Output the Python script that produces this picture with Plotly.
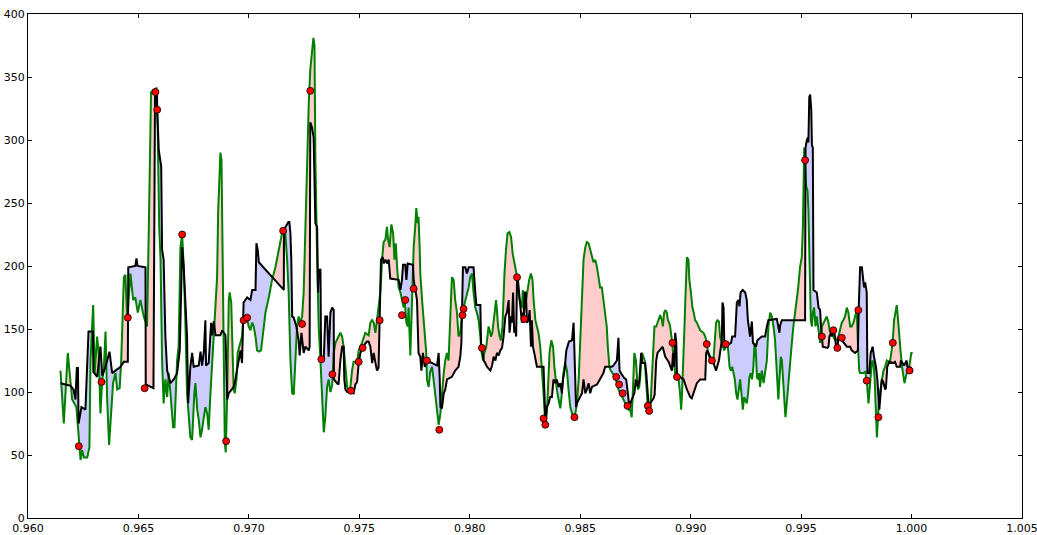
import numpy as np
import plotly.graph_objects as go

black_x = [0.96147,0.96192,0.96206,0.96215,0.96221,0.96226,0.96229,0.96242,0.96260,0.96267,0.96274,0.96294,0.96296,0.96313,0.96328,0.96336,0.96351,0.96369,0.96381,0.96396,0.96419,0.96434,0.96452,0.96454,0.96486,0.96491,0.96496,0.96532,0.96533,0.96568,0.96575,0.96584,0.96585,0.96592,0.96603,0.96607,0.96614,0.96622,0.96630,0.96645,0.96660,0.96675,0.96687,0.96698,0.96705,0.96720,0.96725,0.96735,0.96743,0.96750,0.96773,0.96781,0.96788,0.96796,0.96803,0.96806,0.96818,0.96829,0.96833,0.96841,0.96849,0.96871,0.96879,0.96894,0.96902,0.96909,0.96924,0.96931,0.96939,0.96947,0.96954,0.96962,0.96969,0.96976,0.96992,0.97007,0.97015,0.97030,0.97034,0.97040,0.97045,0.97158,0.97159,0.97173,0.97179,0.97183,0.97188,0.97192,0.97196,0.97203,0.97215,0.97225,0.97230,0.97238,0.97243,0.97248,0.97256,0.97271,0.97275,0.97278,0.97286,0.97293,0.97301,0.97309,0.97313,0.97316,0.97324,0.97327,0.97339,0.97346,0.97354,0.97361,0.97369,0.97377,0.97384,0.97385,0.97399,0.97406,0.97414,0.97422,0.97429,0.97432,0.97437,0.97445,0.97467,0.97474,0.97482,0.97490,0.97497,0.97505,0.97520,0.97535,0.97542,0.97550,0.97558,0.97565,0.97573,0.97580,0.97587,0.97592,0.97598,0.97606,0.97610,0.97618,0.97625,0.97633,0.97640,0.97678,0.97686,0.97693,0.97698,0.97708,0.97713,0.97719,0.97743,0.97746,0.97753,0.97761,0.97768,0.97776,0.97781,0.97788,0.97796,0.97806,0.97852,0.97859,0.97864,0.97867,0.97874,0.97882,0.97889,0.97897,0.97919,0.97934,0.97949,0.97957,0.97962,0.97965,0.97969,0.97980,0.97987,0.97995,0.98017,0.98025,0.98030,0.98048,0.98051,0.98055,0.98063,0.98070,0.98078,0.98093,0.98101,0.98108,0.98116,0.98123,0.98131,0.98138,0.98146,0.98153,0.98161,0.98168,0.98176,0.98180,0.98187,0.98191,0.98196,0.98201,0.98206,0.98210,0.98214,0.98218,0.98224,0.98229,0.98236,0.98241,0.98244,0.98248,0.98254,0.98259,0.98266,0.98271,0.98277,0.98281,0.98286,0.98292,0.98297,0.98304,0.98334,0.98337,0.98342,0.98349,0.98357,0.98364,0.98372,0.98379,0.98387,0.98394,0.98402,0.98410,0.98417,0.98422,0.98429,0.98437,0.98443,0.98449,0.98463,0.98470,0.98475,0.98481,0.98485,0.98493,0.98500,0.98508,0.98515,0.98523,0.98530,0.98538,0.98545,0.98553,0.98576,0.98590,0.98605,0.98613,0.98643,0.98650,0.98666,0.98673,0.98678,0.98684,0.98693,0.98699,0.98708,0.98714,0.98719,0.98723,0.98729,0.98737,0.98745,0.98752,0.98761,0.98768,0.98776,0.98781,0.98794,0.98799,0.98805,0.98809,0.98817,0.98832,0.98837,0.98840,0.98844,0.98850,0.98858,0.98873,0.98885,0.98900,0.98915,0.98920,0.98926,0.98930,0.98935,0.98938,0.98952,0.98968,0.98983,0.98998,0.99005,0.99013,0.99028,0.99043,0.99066,0.99070,0.99076,0.99088,0.99103,0.99115,0.99121,0.99128,0.99141,0.99144,0.99149,0.99152,0.99156,0.99183,0.99188,0.99201,0.99205,0.99209,0.99216,0.99221,0.99226,0.99236,0.99247,0.99254,0.99259,0.99265,0.99269,0.99277,0.99282,0.99296,0.99302,0.99322,0.99337,0.99345,0.99352,0.99390,0.99397,0.99402,0.99405,0.99413,0.99518,0.99520,0.99526,0.99531,0.99533,0.99537,0.99541,0.99546,0.99549,0.99553,0.99556,0.99571,0.99579,0.99586,0.99590,0.99594,0.99598,0.99619,0.99624,0.99628,0.99635,0.99639,0.99646,0.99654,0.99658,0.99664,0.99669,0.99676,0.99691,0.99707,0.99722,0.99729,0.99744,0.99757,0.99761,0.99767,0.99775,0.99780,0.99785,0.99790,0.99797,0.99800,0.99809,0.99815,0.99824,0.99830,0.99839,0.99845,0.99850,0.99854,0.99860,0.99865,0.99872,0.99880,0.99884,0.99890,0.99899,0.99917,0.99925,0.99933,0.99948,0.99952,0.99966,0.99978,0.99981,1.00001]
black_y = [107,105,102,94,119,119,75,88,86,117,148,148,116,112,136,113,120,132,115,117,120,124,124,199,200,206,200,199,106,103,337,337,324,292,279,213,205,144,117,107,110,115,133,215,199,144,91,120,131,120,121,132,121,132,157,121,123,155,145,156,145,145,149,145,94,99,102,104,110,117,125,133,123,171,175,173,181,181,218,213,203,181,229,233,235,235,226,205,160,159,152,141,129,147,139,131,136,133,136,314,310,302,234,231,179,197,197,127,127,160,160,128,163,167,165,110,107,106,125,136,136,110,102,100,100,99,106,108,123,131,137,140,140,136,123,131,123,117,119,157,205,207,202,205,202,205,190,189,181,189,201,201,189,202,201,189,181,173,131,128,117,131,120,125,121,131,110,88,87,99,102,110,112,117,120,128,139,163,199,199,194,199,199,179,169,169,139,136,125,123,120,117,121,128,125,131,129,133,135,144,160,163,173,147,160,155,179,147,152,144,191,189,179,171,155,163,155,179,179,155,157,165,136,157,136,131,125,120,120,99,78,88,91,96,96,110,107,110,104,107,99,110,117,133,137,140,141,155,125,88,91,94,96,99,110,99,102,107,99,104,106,110,115,120,120,121,125,143,117,115,112,111,110,99,91,88,92,95,99,110,104,110,131,123,123,115,102,91,91,95,98,110,125,131,133,136,128,124,117,131,120,147,139,112,112,110,102,96,95,99,107,110,110,131,133,128,123,117,120,125,141,171,167,141,136,139,144,144,157,171,173,168,179,181,179,173,157,147,144,156,139,136,141,144,144,152,157,158,153,147,153,157,157,294,300,302,298,334,336,324,296,294,181,179,167,165,152,141,136,135,136,144,147,144,149,144,136,133,144,143,140,136,136,133,131,133,167,199,199,191,183,187,179,115,115,131,136,128,120,110,94,86,99,110,108,102,103,120,124,123,124,120,120,125,121,125,120,119]

green_x = [0.96147,0.96162,0.96180,0.96200,0.96219,0.96238,0.96245,0.96253,0.96268,0.96278,0.96283,0.96295,0.96302,0.96313,0.96320,0.96328,0.96336,0.96343,0.96351,0.96358,0.96367,0.96376,0.96385,0.96396,0.96404,0.96415,0.96422,0.96434,0.96441,0.96449,0.96456,0.96464,0.96476,0.96486,0.96497,0.96509,0.96524,0.96539,0.96547,0.96557,0.96569,0.96581,0.96587,0.96594,0.96600,0.96607,0.96614,0.96622,0.96630,0.96637,0.96645,0.96657,0.96663,0.96675,0.96682,0.96690,0.96698,0.96705,0.96713,0.96720,0.96735,0.96743,0.96753,0.96758,0.96766,0.96773,0.96781,0.96788,0.96796,0.96803,0.96811,0.96818,0.96826,0.96833,0.96841,0.96849,0.96856,0.96861,0.96867,0.96871,0.96876,0.96879,0.96883,0.96886,0.96891,0.96895,0.96902,0.96909,0.96913,0.96920,0.96927,0.96931,0.96936,0.96944,0.96949,0.96958,0.96969,0.96974,0.96980,0.96989,0.96999,0.97007,0.97015,0.97022,0.97030,0.97037,0.97045,0.97055,0.97064,0.97075,0.97090,0.97105,0.97120,0.97135,0.97150,0.97158,0.97165,0.97173,0.97180,0.97188,0.97196,0.97203,0.97210,0.97218,0.97225,0.97233,0.97241,0.97248,0.97256,0.97263,0.97271,0.97278,0.97286,0.97292,0.97297,0.97301,0.97309,0.97316,0.97324,0.97331,0.97339,0.97346,0.97354,0.97361,0.97369,0.97377,0.97384,0.97392,0.97407,0.97414,0.97422,0.97429,0.97437,0.97445,0.97452,0.97459,0.97467,0.97474,0.97490,0.97497,0.97512,0.97527,0.97542,0.97550,0.97558,0.97565,0.97573,0.97580,0.97587,0.97595,0.97603,0.97610,0.97618,0.97625,0.97630,0.97637,0.97645,0.97653,0.97659,0.97665,0.97671,0.97678,0.97686,0.97693,0.97701,0.97705,0.97713,0.97719,0.97723,0.97731,0.97739,0.97746,0.97753,0.97758,0.97764,0.97768,0.97773,0.97776,0.97784,0.97791,0.97799,0.97803,0.97806,0.97814,0.97821,0.97829,0.97836,0.97844,0.97852,0.97859,0.97867,0.97874,0.97882,0.97889,0.97897,0.97904,0.97912,0.97919,0.97927,0.97934,0.97942,0.97949,0.97957,0.97965,0.97972,0.97980,0.97987,0.97995,0.98002,0.98010,0.98017,0.98025,0.98032,0.98040,0.98048,0.98052,0.98060,0.98066,0.98075,0.98081,0.98085,0.98090,0.98096,0.98102,0.98108,0.98113,0.98119,0.98123,0.98128,0.98135,0.98141,0.98148,0.98153,0.98157,0.98164,0.98171,0.98179,0.98187,0.98194,0.98201,0.98206,0.98214,0.98218,0.98225,0.98231,0.98236,0.98240,0.98246,0.98254,0.98261,0.98269,0.98277,0.98284,0.98289,0.98297,0.98304,0.98311,0.98319,0.98324,0.98328,0.98334,0.98339,0.98343,0.98349,0.98354,0.98361,0.98369,0.98377,0.98383,0.98389,0.98394,0.98402,0.98410,0.98417,0.98424,0.98432,0.98440,0.98447,0.98455,0.98463,0.98470,0.98478,0.98485,0.98493,0.98500,0.98508,0.98515,0.98523,0.98530,0.98538,0.98545,0.98553,0.98560,0.98568,0.98576,0.98583,0.98590,0.98598,0.98605,0.98613,0.98620,0.98625,0.98632,0.98638,0.98647,0.98658,0.98666,0.98673,0.98681,0.98688,0.98696,0.98704,0.98711,0.98719,0.98726,0.98733,0.98738,0.98741,0.98745,0.98752,0.98756,0.98761,0.98767,0.98771,0.98776,0.98780,0.98786,0.98792,0.98797,0.98801,0.98806,0.98812,0.98817,0.98821,0.98827,0.98832,0.98836,0.98844,0.98850,0.98858,0.98862,0.98870,0.98874,0.98880,0.98885,0.98892,0.98897,0.98903,0.98907,0.98915,0.98920,0.98926,0.98931,0.98938,0.98945,0.98952,0.98957,0.98961,0.98968,0.98972,0.98977,0.98983,0.98990,0.98994,0.99001,0.99008,0.99014,0.99020,0.99028,0.99035,0.99043,0.99058,0.99066,0.99073,0.99078,0.99084,0.99096,0.99103,0.99111,0.99115,0.99121,0.99128,0.99133,0.99139,0.99146,0.99152,0.99158,0.99164,0.99170,0.99176,0.99182,0.99188,0.99194,0.99200,0.99206,0.99212,0.99218,0.99224,0.99230,0.99236,0.99242,0.99248,0.99254,0.99260,0.99266,0.99272,0.99278,0.99284,0.99289,0.99295,0.99300,0.99304,0.99310,0.99314,0.99322,0.99330,0.99337,0.99345,0.99352,0.99360,0.99367,0.99375,0.99382,0.99387,0.99393,0.99397,0.99402,0.99408,0.99413,0.99417,0.99423,0.99429,0.99435,0.99443,0.99450,0.99458,0.99465,0.99473,0.99480,0.99487,0.99495,0.99503,0.99508,0.99510,0.99514,0.99518,0.99523,0.99529,0.99533,0.99538,0.99544,0.99549,0.99553,0.99559,0.99565,0.99571,0.99579,0.99586,0.99594,0.99601,0.99608,0.99616,0.99624,0.99631,0.99639,0.99646,0.99654,0.99661,0.99669,0.99676,0.99684,0.99691,0.99699,0.99707,0.99714,0.99722,0.99729,0.99737,0.99744,0.99752,0.99757,0.99763,0.99767,0.99782,0.99790,0.99797,0.99805,0.99810,0.99816,0.99822,0.99828,0.99833,0.99837,0.99843,0.99849,0.99855,0.99861,0.99867,0.99873,0.99880,0.99888,0.99895,0.99903,0.99910,0.99915,0.99921,0.99927,0.99933,0.99939,0.99945,0.99951,0.99957,0.99963,0.99968,0.99974,0.99978,0.99986,0.99993,0.99999,1.00005]
green_y = [117,75,131,94,88,46,54,48,48,56,125,169,115,144,131,83,110,117,148,96,58,88,107,115,102,103,125,191,193,157,179,194,173,175,163,173,160,152,231,338,340,341,310,231,205,125,91,110,96,115,99,72,72,125,136,215,225,199,152,99,64,62,99,107,86,78,64,70,80,88,83,70,99,120,136,165,191,244,279,290,284,231,152,99,60,52,99,173,179,171,125,102,99,110,131,136,144,157,155,161,152,149,155,152,144,133,132,133,147,163,175,189,199,213,226,229,226,205,179,125,99,98,125,152,160,155,160,179,231,284,329,356,371,381,375,284,205,152,125,99,68,80,104,110,100,105,131,139,144,147,144,136,120,104,102,103,117,124,124,133,139,147,145,155,157,155,147,157,163,179,205,219,221,231,221,215,233,226,205,218,199,183,179,173,167,173,155,152,167,129,179,215,231,246,234,239,215,194,173,157,141,131,110,104,116,120,110,99,88,74,83,99,115,125,131,125,157,191,189,173,163,144,147,163,167,173,179,183,191,194,179,167,163,157,144,133,125,131,136,149,152,149,144,147,157,167,173,165,152,144,141,152,179,194,213,226,227,223,210,205,199,191,181,173,171,167,181,163,173,179,189,194,189,173,157,152,147,136,125,110,99,83,75,83,110,131,141,136,120,110,102,94,87,99,115,123,117,102,88,83,80,83,91,110,139,179,205,215,219,218,213,207,203,205,199,191,183,183,173,163,152,136,120,117,115,112,107,102,99,96,94,91,88,86,86,80,99,120,131,125,110,102,104,110,125,131,128,125,112,99,88,83,86,99,125,149,152,152,155,160,161,157,152,163,165,163,157,155,152,141,131,123,112,115,110,99,86,99,125,152,179,207,205,189,179,167,163,157,155,152,149,147,144,139,131,128,125,125,147,155,157,156,144,139,136,133,136,139,133,120,117,120,115,110,99,94,102,110,99,86,96,94,91,99,112,115,110,120,139,133,112,110,115,104,117,107,115,125,152,163,160,152,141,125,107,94,110,128,125,112,99,80,91,110,125,139,152,163,173,183,199,207,231,271,294,279,263,260,244,205,157,152,163,167,152,160,149,139,152,155,157,160,155,147,149,144,141,141,144,149,155,157,160,167,163,152,152,155,160,165,139,117,115,115,116,110,91,104,115,125,123,110,91,64,83,99,104,112,117,120,125,124,125,133,141,157,165,169,157,139,131,120,110,107,112,115,117,123,131,131]

dot_x = [0.96230,0.96333,0.96452,0.96528,0.96577,0.96585,0.96698,0.96897,0.96976,0.96992,0.97155,0.97241,0.97278,0.97328,0.97378,0.97462,0.97497,0.97515,0.97592,0.97693,0.97708,0.97746,0.97806,0.97862,0.97967,0.97972,0.98055,0.98214,0.98247,0.98334,0.98342,0.98474,0.98663,0.98676,0.98692,0.98714,0.98806,0.98812,0.98918,0.98938,0.99073,0.99096,0.99159,0.99518,0.99594,0.99646,0.99664,0.99684,0.99759,0.99797,0.99850,0.99915,0.99991]
dot_y = [57,108,159,103,338,324,225,61,157,159,228,154,339,126,114,101,124,135,157,161,173,182,125,70,161,166,135,191,158,79,74,80,112,106,99,89,89,85,139,112,138,125,138,284,144,149,135,143,165,109,80,139,117]

x_ticks = [0.960, 0.965, 0.970, 0.975, 0.980, 0.985, 0.990, 0.995, 1.000, 1.005]
y_ticks = [0, 50, 100, 150, 200, 250, 300, 350, 400]

# ---- fills between the two curves ----
xb = np.array(black_x); yb = np.array(black_y, dtype=float)
xg = np.array(green_x); yg = np.array(green_y, dtype=float)
lo = max(xb[0], xg[0]); hi = min(xb[-1], xg[-1])
grid = np.union1d(xb, xg)
grid = grid[(grid >= lo) & (grid <= hi)]
b = np.interp(grid, xb, yb)
g = np.interp(grid, xg, yg)
d = g - b
xs, bs, gs = [grid[0]], [b[0]], [g[0]]
for i in range(1, len(grid)):
    if d[i - 1] * d[i] < 0:
        t = d[i - 1] / (d[i - 1] - d[i])
        xc = grid[i - 1] + t * (grid[i] - grid[i - 1])
        yc = b[i - 1] + t * (b[i] - b[i - 1])
        xs.append(xc); bs.append(yc); gs.append(yc)
    xs.append(grid[i]); bs.append(b[i]); gs.append(g[i])
xs = np.array(xs); bs = np.array(bs); gs = np.array(gs)
upper = np.maximum(gs, bs)
lower = np.minimum(gs, bs)

fig = go.Figure()
fig.add_trace(go.Scatter(
    x=np.concatenate([xs, xs[::-1]]), y=np.concatenate([upper, bs[::-1]]),
    fill="toself", fillcolor="rgba(255,0,0,0.2)", mode="lines",
    line=dict(width=0, color="rgba(0,0,0,0)"), hoverinfo="skip", showlegend=False))
fig.add_trace(go.Scatter(
    x=np.concatenate([xs, xs[::-1]]), y=np.concatenate([lower, bs[::-1]]),
    fill="toself", fillcolor="rgba(0,0,255,0.2)", mode="lines",
    line=dict(width=0, color="rgba(0,0,0,0)"), hoverinfo="skip", showlegend=False))
fig.add_trace(go.Scatter(x=green_x, y=green_y, mode="lines",
                         line=dict(color="#008000", width=2), showlegend=False))
fig.add_trace(go.Scatter(x=black_x, y=black_y, mode="lines",
                         line=dict(color="black", width=2), showlegend=False))
fig.add_trace(go.Scatter(x=dot_x, y=dot_y, mode="markers",
                         marker=dict(color="red", size=7, line=dict(color="black", width=0.8)),
                         showlegend=False))

axis_common = dict(showgrid=False, zeroline=False, showline=True, linecolor="black",
                   linewidth=1, mirror="ticks", ticks="inside", ticklen=4, tickwidth=1,
                   tickcolor="black", automargin=False, ticklabeloverflow="allow",
                   tickfont=dict(family="DejaVu Sans", size=11, color="black"))
fig.update_xaxes(range=[0.960, 1.005], tickvals=x_ticks,
                 ticktext=[f"{v:.3f}" for v in x_ticks], **axis_common)
fig.update_yaxes(range=[0, 400], tickvals=y_ticks,
                 ticktext=[str(v) for v in y_ticks], **axis_common)
fig.update_layout(width=1037, height=535, margin=dict(l=28, r=15, t=14, b=17, autoexpand=False),
                  plot_bgcolor="white", paper_bgcolor="white", hovermode=False,
                  font=dict(family="DejaVu Sans", size=11, color="black"))
fig.write_html("out.html", config={"displayModeBar": False, "staticPlot": True},
               post_script="document.body.style.margin='0';document.body.style.overflow='hidden';")
